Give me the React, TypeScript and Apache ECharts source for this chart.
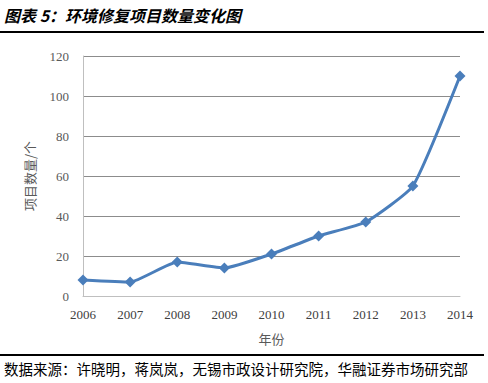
import React, { useEffect, useRef } from "react";
import * as echarts from "echarts";

const years = ["2006", "2007", "2008", "2009", "2010", "2011", "2012", "2013", "2014"];
const projectCounts = [8, 7, 17, 14, 21, 30, 37, 55, 110];
const titleText = "图表 5：环境修复项目数量变化图";
const sourceText = "数据来源：许晓明，蒋岚岚，无锡市政设计研究院，华融证券市场研究部";

export default function App() {
  const ref = useRef<HTMLDivElement>(null);
  useEffect(() => {
    const chart = echarts.init(ref.current!, undefined, { renderer: "svg" });
    chart.setOption({
      animation: false,
      backgroundColor: "#ffffff",
      grid: { left: 83, right: 28, top: 56, bottom: 87, containLabel: false },
      xAxis: {
        type: "category",
        data: years,
        boundaryGap: false,
        name: "年份",
        nameLocation: "middle",
        nameGap: 36,
        nameTextStyle: { color: "#595959", fontSize: 13, fontFamily: "Noto Sans CJK SC" },
        axisLine: { lineStyle: { color: "#bfbfbf", width: 1 } },
        axisTick: { show: false },
        axisLabel: { color: "#404040", fontSize: 13, fontFamily: "Liberation Serif", margin: 12 },
      },
      yAxis: {
        type: "value",
        min: 0,
        max: 120,
        interval: 20,
        name: "项目数量/个",
        nameLocation: "middle",
        nameGap: 47,
        nameRotate: 90,
        nameTextStyle: { color: "#595959", fontSize: 13, fontFamily: "Noto Sans CJK SC" },
        axisLine: { show: true, lineStyle: { color: "#bfbfbf", width: 1 } },
        axisTick: { show: false },
        splitLine: { lineStyle: { color: "#8c8c8c", width: 1 } },
        axisLabel: { color: "#595959", fontSize: 13, fontFamily: "Liberation Serif", margin: 14 },
      },
      series: [
        {
          type: "line",
          data: projectCounts,
          smooth: 0.15,
          symbol: "diamond",
          symbolSize: 11,
          itemStyle: { color: "#4a7ebb" },
          lineStyle: { color: "#4a7ebb", width: 3 },
        },
      ],
      graphic: [
        {
          type: "text",
          left: 4,
          top: 7,
          style: {
            text: titleText,
            fill: "#000",
            font: "italic bold 16px 'Noto Sans CJK SC'",
          },
        },
        {
          type: "rect",
          shape: { x: 0, y: 31, width: 484, height: 2 },
          style: { fill: "#000" },
        },
        {
          type: "rect",
          shape: { x: 0, y: 354, width: 484, height: 2 },
          style: { fill: "#000" },
        },
        {
          type: "text",
          left: 4,
          top: 361,
          style: {
            text: sourceText,
            fill: "#000",
            font: "14.5px 'Noto Sans CJK SC'",
          },
        },
      ],
    });
    return () => chart.dispose();
  }, []);
  return (
    <div
      ref={ref}
      style={{ position: "fixed", left: 0, top: 0, width: 488, height: 383 }}
    />
  );
}
